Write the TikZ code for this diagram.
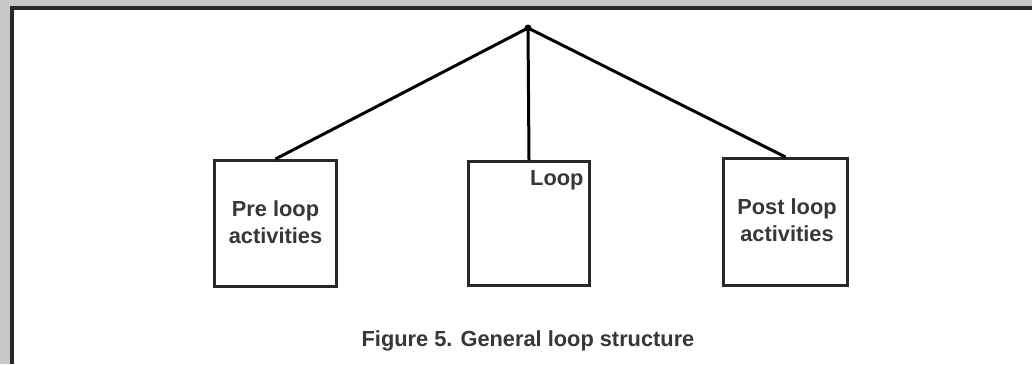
\documentclass[tikz,border=0pt]{standalone}
\usepackage{fontspec}
\setmainfont{Liberation Sans}
\definecolor{inkgray}{RGB}{55,55,55}
\definecolor{bandgray}{RGB}{200,200,200}
\definecolor{linegray}{RGB}{40,40,40}
\begin{document}
\begin{tikzpicture}[x=1pt,y=-1pt,
  box/.style={draw=linegray, line width=3pt, fill=white, inner sep=0pt},
  lbl/.style={text=inkgray, font=\bfseries\fontsize{21.8}{27.5}\selectfont, inner sep=0pt},
  link/.style={draw=black, line width=3pt}]
\useasboundingbox (0,0) rectangle (1032,364);
% frame
\fill[bandgray] (0,0) rectangle (1032,364);
\fill[white] (12,8) rectangle (1032,364);
\draw[linegray, line width=3.5pt] (12,364) -- (12,8) -- (1032,8);
% boxes
\node[box, minimum width=122pt, minimum height=126pt] (pre) at (275.5,223.5) {};
\node[box, minimum width=121pt, minimum height=124pt] (loop) at (529,223.5) {};
\node[box, minimum width=124pt, minimum height=127pt] (post) at (785.5,222) {};
% apex
\coordinate (apex) at (528,28);
\draw[link] (apex) -- (pre.north);
\draw[link] (apex) -- (loop.north);
\draw[link] (apex) -- (post.north);
\fill[black] (apex) circle (3.5pt);
% labels
\node[lbl, align=center] (pret) at (275.5,222) {Pre loop\\activities};
\node[lbl, align=center] (postt) at (787,220) {Post loop\\activities};
\node[lbl, anchor=base west] (loopt) at (530,185) {Loop};
\node[lbl, anchor=base] (cap) at (528,346) {Figure 5. General loop structure};
\end{tikzpicture}
\end{document}
